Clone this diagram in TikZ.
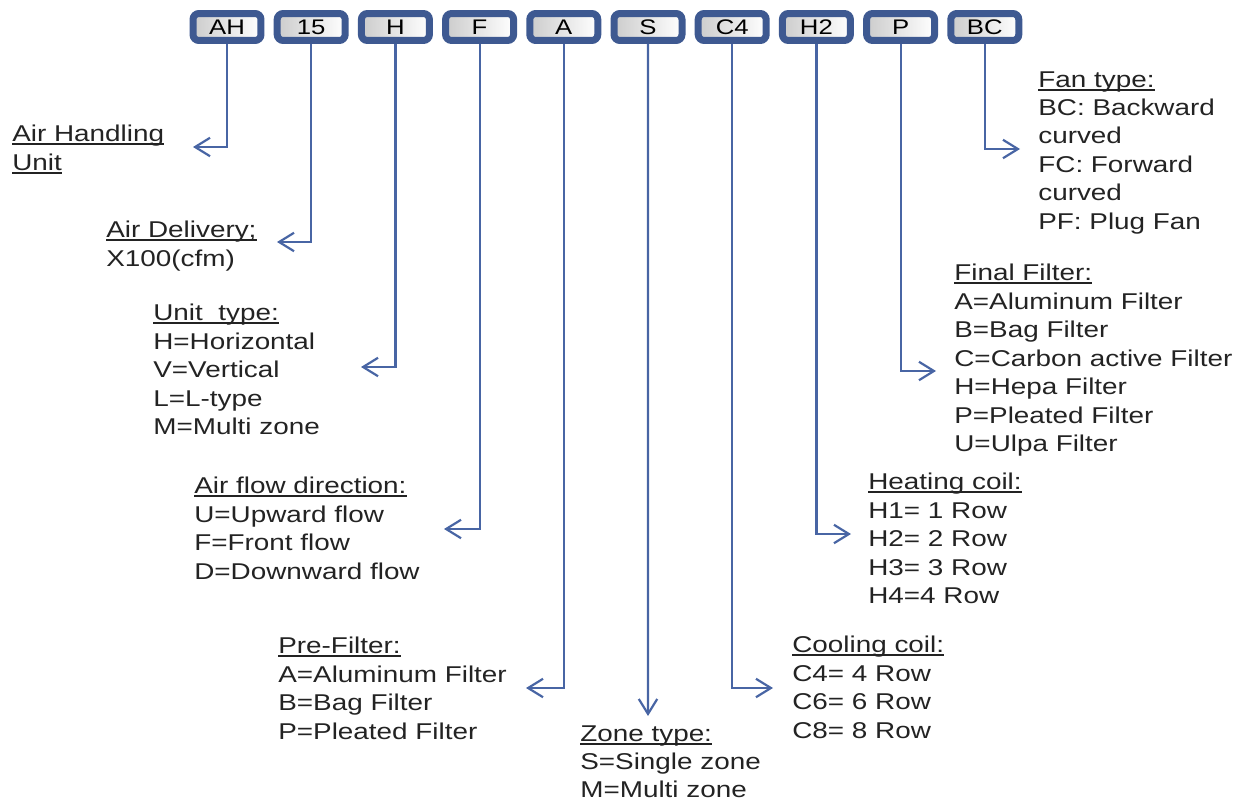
\documentclass[tikz,border=0pt]{standalone}
\usepackage{fontspec}
\usetikzlibrary{arrows.meta}
\setmainfont[FakeStretch=1.22]{Liberation Sans}
\definecolor{boxblue}{RGB}{62,89,145}
\definecolor{lineblue}{RGB}{72,101,164}
\definecolor{textgray}{RGB}{35,35,35}
\newcommand{\uln}[1]{\setbox0\hbox{#1}\rlap{\rule[-2pt]{\wd0}{1.1pt}}\box0}
\def\boxsep{84.2}

\begin{document}
\begin{tikzpicture}[x=0.02cm, y=-0.02cm, >={Straight Barb[length=8.5pt,width=10.5pt]}]
      \tikzstyle{codebox}=[draw=boxblue, line width=0.14cm, rounded corners=0.12cm,
          left color=black!20, right color=white, minimum width=1.36cm,
          minimum height=0.54cm, inner sep=0pt, text=black,
          font=\fontsize{12}{14}\selectfont]
      \tikzstyle{desc}=[anchor=north west, align=left, inner sep=0pt, text=textgray,
          font=\fontsize{13}{16.2}\selectfont]
      \tikzstyle{conn}=[->, draw=lineblue, line width=1.25pt]

      \useasboundingbox (0,0) rectangle (1241,801);

      % Draw the code boxes of the model number
      \foreach \code [count=\i] in {AH,15,H,F,A,S,C4,H2,P,BC}
          \node[codebox] (B-\code) at ({227+\boxsep*(\i-1)},27) {\code};

      % Draw the explanations (top of the first line)
      \node[desc] (T-AH) at (12,125) {\uln{Air Handling}\\\uln{Unit}};
      \node[desc] (T-15) at (106,221) {\uln{Air Delivery;}\\X100(cfm)};
      \node[desc] (T-H) at (153,304) {\uln{Unit\ \ type:}\\H=Horizontal\\V=Vertical\\L=L-type\\M=Multi zone};
      \node[desc] (T-F) at (194,477) {\uln{Air flow direction:}\\U=Upward flow\\F=Front flow\\D=Downward flow};
      \node[desc] (T-A) at (278,637) {\uln{Pre-Filter:}\\A=Aluminum Filter\\B=Bag Filter\\P=Pleated Filter};
      \node[desc] (T-S) at (580,725) {\uln{Zone type:}\\S=Single zone\\M=Multi zone};
      \node[desc] (T-C4) at (792,636) {\uln{Cooling coil:}\\C4= 4 Row\\C6= 6 Row\\C8= 8 Row};
      \node[desc] (T-H2) at (868,473) {\uln{Heating coil:}\\H1= 1 Row\\H2= 2 Row\\H3= 3 Row\\H4=4 Row};
      \node[desc] (T-P) at (954,264) {\uln{Final Filter:}\\A=Aluminum Filter\\B=Bag Filter\\C=Carbon active Filter\\H=Hepa Filter\\P=Pleated Filter\\U=Ulpa Filter};
      \node[desc] (T-BC) at (1038,71) {\uln{Fan type:}\\BC: Backward\\curved\\FC: Forward\\curved\\PF: Plug Fan};

      % Arrow ends next to the explanations
      \coordinate (E-AH) at (193,147);
      \coordinate (E-15) at (277,242);
      \coordinate (E-H) at (361,367);
      \coordinate (E-F) at (444,529);
      \coordinate (E-A) at (526,688);
      \coordinate (E-S) at (648,716);
      \coordinate (E-C4) at (773,688);
      \coordinate (E-H2) at (851,534);
      \coordinate (E-P) at (936,371);
      \coordinate (E-BC) at (1020,149);

      % Connect every code box with its explanation
      \foreach \code in {AH,15,H,F,A,C4,H2,P,BC}
          \draw[conn] (B-\code.south) |- (E-\code);
      \draw[conn] (B-S.south) -- (E-S);
\end{tikzpicture}
\end{document}
